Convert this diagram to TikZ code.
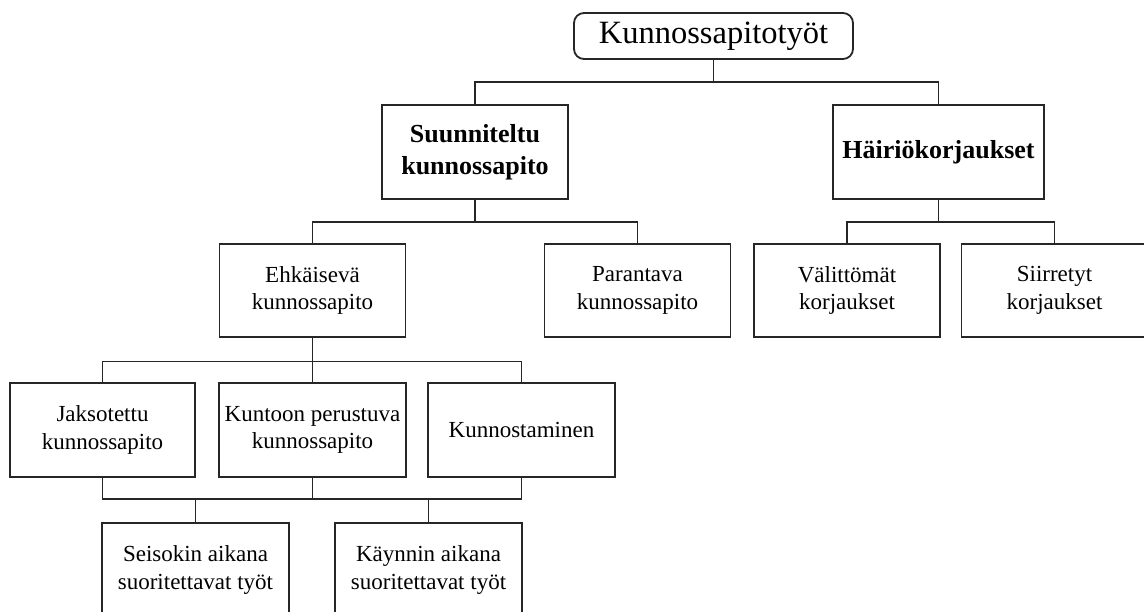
\documentclass[tikz,border=0pt]{standalone}
\usepackage{fontspec}
\setmainfont{Liberation Serif}
\begin{document}
\begin{tikzpicture}[x=1pt,y=1pt,
  box/.style={draw=black!85, line width=1.8pt, rectangle, inner sep=0pt, align=center,
    minimum width=186pt, minimum height=94pt,
    font=\fontsize{23}{27.5}\selectfont},
  boldbox/.style={box, font=\fontsize{26}{32}\selectfont\bfseries},
  rootbox/.style={draw=black!85, line width=1.8pt, rectangle, rounded corners=10pt,
    inner sep=0pt, minimum width=279pt, minimum height=46pt,
    font=\fontsize{32.5}{36}\selectfont},
  link/.style={draw=black!85, line width=1.8pt}]
\useasboundingbox (0,0) rectangle (1144,-611);
\clip (0,0) rectangle (1144,-611);

% root
\node[rootbox] (root) at (713.5,-36) {Kunnossapitotyöt};

% level 1
\node[boldbox] (suun) at (475,-152) {Suunniteltu\\kunnossapito};
\node[boldbox, minimum width=211pt] (hair) at (938.5,-152) {Häiriökorjaukset};

% level 2
\node[box, minimum height=93pt] (ehk) at (312.5,-290.5) {Ehkäisevä\\kunnossapito};
\node[box, minimum height=93pt] (par) at (637.5,-290.5) {Parantava\\kunnossapito};
\node[box, minimum height=93pt] (val) at (847,-290.5) {Välittömät\\korjaukset};
\node[box, minimum height=93pt] (sii) at (1054.5,-290.5) {Siirretyt\\korjaukset};

% level 3
\node[box, minimum width=185pt] (jak) at (102.5,-430) {Jaksotettu\\kunnossapito};
\node[box, minimum width=187pt] (kun) at (312.5,-430) {Kuntoon perustuva\\kunnossapito};
\node[box, minimum width=187pt] (kus) at (521.5,-430) {Kunnostaminen};

% level 4
\node[box, minimum width=187pt] (sei) at (195.5,-570) {Seisokin aikana\\suoritettavat työt};
\node[box, minimum width=187pt] (kay) at (428.5,-570) {Käynnin aikana\\suoritettavat työt};

% bus junctions
\coordinate (j1) at (713.5,-82);
\coordinate (j2) at (475,-222);
\coordinate (j3) at (938.5,-222);
\coordinate (j4) at (312.5,-361.5);
\coordinate (j5) at (312.5,-499);

% connectors
\draw[link] (root.south) -- (j1);
\draw[link] (suun.north) |- (j1) -| (hair.north);

\draw[link] (suun.south) -- (j2);
\draw[link] (ehk.north) |- (j2) -| (par.north);

\draw[link] (hair.south) -- (j3);
\draw[link] (val.north) |- (j3) -| (sii.north);

\draw[link] (ehk.south) -- (j4);
\draw[link] (jak.north) |- (j4) -| (kus.north);
\draw[link] (kun.north) -- (j4);

\draw[link] (jak.south) |- (j5) -| (kus.south);
\draw[link] (kun.south) -- (j5);
\draw[link] (sei.north) |- (j5);
\draw[link] (kay.north) |- (j5);
\end{tikzpicture}
\end{document}
